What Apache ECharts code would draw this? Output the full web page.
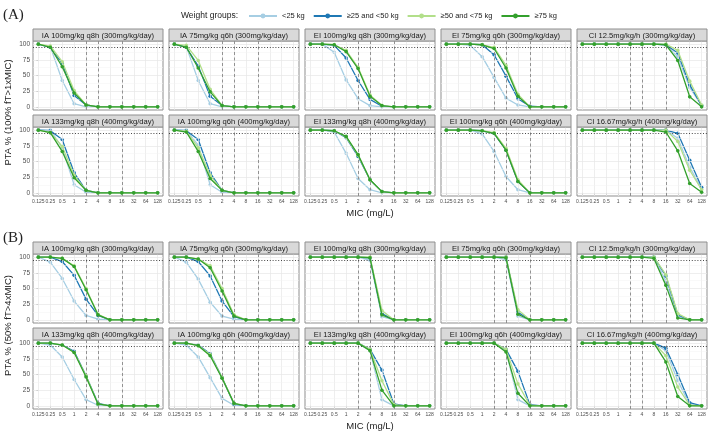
<!DOCTYPE html>
<html><head><meta charset="utf-8">
<script src="https://cdn.jsdelivr.net/npm/echarts@6/dist/echarts.min.js"></script>
<style>html,body{margin:0;padding:0;background:#fff}#c{width:709px;height:433px}</style>
</head><body><div id="c"></div><script>
// ---------- data ----------
const micLabels = ['0.125','0.25','0.5','1','2','4','8','16','32','64','128'];
const groups = ['<25 kg','≥25 and <50 kg','≥50 and <75 kg','≥75 kg'];
const groupColors = ['#a6cee3','#1f78b4','#b2df8a','#33a02c'];
const yTicks = [0,25,50,75,100];
const yMinor = [12.5,37.5,62.5,87.5];
const breakpointIdx = [4,5,7];   // MIC 2, 4, 16 mg/L
const targetPTA = 95;
const titlesRow1 = ['IA 100mg/kg q8h (300mg/kg/day)','IA 75mg/kg q6h (300mg/kg/day)','EI 100mg/kg q8h (300mg/kg/day)','EI 75mg/kg q6h (300mg/kg/day)','CI 12.5mg/kg/h (300mg/kg/day)'];
const titlesRow2 = ['IA 133mg/kg q8h (400mg/kg/day)','IA 100mg/kg q6h (400mg/kg/day)','EI 133mg/kg q8h (400mg/kg/day)','EI 100mg/kg q6h (400mg/kg/day)','CI 16.67mg/kg/h (400mg/kg/day)'];

// (A) 100% fT>1xMIC ; each panel: [<25, 25-50, 50-75, >=75]
const A_IA100q8h = [[100,96,42,5,0,0,0,0,0,0,0],[100,95,69,18,3,0,0,0,0,0,0],[100,97,72,26,3,0,0,0,0,0,0],[100,95,64,22,3,0,0,0,0,0,0]];
const A_IA75q6h  = [[100,96,42,5,0,0,0,0,0,0,0],[100,95,65,17,2,0,0,0,0,0,0],[100,98,74,28,2,0,0,0,0,0,0],[100,95,62,24,2,0,0,0,0,0,0]];
const A_EI100q8h = [[100,100,87,43,13,2,0,0,0,0,0],[100,100,98,78,42,12,1,0,0,0,0],[100,100,99,90,63,19,2,0,0,0,0],[100,100,99,88,61,17,2,0,0,0,0]];
const A_EI75q6h  = [[100,100,98,80,47,14,3,0,0,0,0],[100,100,100,99,83,49,13,1,0,0,0],[100,100,100,99,95,66,20,0,0,0,0],[100,100,100,99,93,62,17,0,0,0,0]];
const A_CI12_5   = [[100,100,100,100,100,100,100,99,80,31,2],[100,100,100,100,100,100,100,99,86,35,2],[100,100,100,100,100,100,100,100,90,41,3],[100,100,100,100,100,100,100,99,74,16,0]];
const A_IA133q8h = [[100,100,72,13,1,0,0,0,0,0,0],[100,99,85,32,4,0,0,0,0,0,0],[100,96,74,28,4,0,0,0,0,0,0],[100,96,66,24,4,0,0,0,0,0,0]];
const A_IA100q6h = [[100,100,76,13,1,0,0,0,0,0,0],[100,99,85,32,4,0,0,0,0,0,0],[100,98,72,28,4,0,0,0,0,0,0],[100,97,66,23,4,0,0,0,0,0,0]];
const A_EI133q8h = [[100,100,97,63,23,5,0,0,0,0,0],[100,100,99,88,58,21,2,0,0,0,0],[100,100,99,89,60,21,2,0,0,0,0],[100,100,99,90,61,21,2,0,0,0,0]];
const A_EI100q6h = [[100,100,100,94,66,26,5,0,0,0,0],[100,100,100,99,95,68,18,0,0,0,0],[100,100,100,99,96,71,21,0,0,0,0],[100,100,100,99,95,68,18,0,0,0,0]];
const A_CI16_67  = [[100,100,100,100,100,100,100,100,87,41,6],[100,100,100,100,100,100,100,100,95,52,9],[100,100,100,100,100,100,100,100,82,36,5],[100,100,100,100,100,100,100,97,67,15,1]];

// (B) 50% fT>4xMIC
const B_IA100q8h = [[100,92,66,30,7,1,0,0,0,0,0],[100,100,93,71,33,7,0,0,0,0,0],[100,100,98,86,50,9,0,0,0,0,0],[100,100,98,85,48,8,0,0,0,0,0]];
const B_IA75q6h  = [[100,92,65,28,6,1,0,0,0,0,0],[100,100,93,70,30,5,0,0,0,0,0],[100,100,97,86,50,8,0,0,0,0,0],[100,100,97,83,46,6,0,0,0,0,0]];
const B_EI100q8h = [[100,100,100,100,100,95,5,0,0,0,0],[100,100,100,100,100,99,10,0,0,0,0],[100,100,100,100,100,100,15,0,0,0,0],[100,100,100,100,100,99,8,0,0,0,0]];
const B_EI75q6h  = [[100,100,100,100,100,96,6,0,0,0,0],[100,100,100,100,100,100,12,0,0,0,0],[100,100,100,100,100,100,16,0,0,0,0],[100,100,100,100,100,99,9,0,0,0,0]];
const B_CI12_5   = [[100,100,100,100,100,100,100,62,6,0,0],[100,100,100,100,100,100,100,70,8,0,0],[100,100,100,100,100,100,100,72,10,0,0],[100,100,100,100,100,100,98,55,3,0,0]];
const B_IA133q8h = [[100,97,78,42,10,1,0,0,0,0,0],[100,100,97,87,48,4,0,0,0,0,0],[100,100,97,85,48,3,0,0,0,0,0],[100,100,97,85,46,3,0,0,0,0,0]];
const B_IA100q6h = [[100,97,78,45,12,1,0,0,0,0,0],[100,100,97,83,45,3,0,0,0,0,0],[100,100,96,82,45,4,0,0,0,0,0],[100,100,96,80,44,4,0,0,0,0,0]];
const B_EI133q8h = [[100,100,100,100,100,88,10,0,0,0,0],[100,100,100,100,100,90,57,3,0,0,0],[100,100,100,100,100,90,40,2,0,0,0],[100,100,100,100,100,88,25,0,0,0,0]];
const B_EI100q6h = [[100,100,100,100,100,88,10,0,0,0,0],[100,100,100,100,100,90,55,2,0,0,0],[100,100,100,100,100,90,35,1,0,0,0],[100,100,100,100,100,86,20,0,0,0,0]];
const B_CI16_67  = [[100,100,100,100,100,100,100,88,40,2,0],[100,100,100,100,100,100,100,92,50,5,0],[100,100,100,100,100,100,100,80,30,1,0],[100,100,100,100,100,100,100,70,15,0,0]];

const panelRows = [
  [A_IA100q8h, A_IA75q6h, A_EI100q8h, A_EI75q6h, A_CI12_5],
  [A_IA133q8h, A_IA100q6h, A_EI133q8h, A_EI100q6h, A_CI16_67],
  [B_IA100q8h, B_IA75q6h, B_EI100q8h, B_EI75q6h, B_CI12_5],
  [B_IA133q8h, B_IA100q6h, B_EI133q8h, B_EI100q6h, B_CI16_67]
];
const rowTitles = [titlesRow1, titlesRow2, titlesRow1, titlesRow2];

// ---------- layout ----------
const FONT = 'Liberation Sans, Arial, sans-serif';
const panelLeft0 = 33, panelPitch = 136, panelW = 130;
const stripTops = [29, 115, 242, 328];
const stripH = 12, plotH = 69;

const grids = [], xAxes = [], yAxes = [], series = [], graphics = [];
let p = 0;
panelRows.forEach((row, r) => {
  row.forEach((panel, c) => {
    const left = panelLeft0 + panelPitch * c;
    const top = stripTops[r] + stripH;
    const bottomRow = (r === 1 || r === 3);
    grids.push({left: left, top: top, width: panelW, height: plotH, show: true,
      borderColor: '#8f8f8f', borderWidth: 1, backgroundColor: '#fff', z: 0});
    xAxes.push({type: 'value', gridIndex: p, min: -0.45, max: 10.45,
      axisLine: {show: false}, splitLine: {show: false},
      axisTick: {show: bottomRow, customValues: micLabels.map((_, i) => i), length: 2, lineStyle: {color: '#555', width: 0.6}},
      axisLabel: {show: bottomRow, customValues: micLabels.map((_, i) => i), formatter: v => micLabels[Math.round(v)],
        fontSize: 5, color: '#4d4d4d', margin: 3, fontFamily: FONT, hideOverlap: false}});
    yAxes.push({type: 'value', gridIndex: p, min: -5, max: 105,
      axisLine: {show: false}, splitLine: {show: false},
      axisTick: {show: c === 0, customValues: yTicks, length: 2, lineStyle: {color: '#555', width: 0.6}},
      axisLabel: {show: c === 0, customValues: yTicks, fontSize: 6.5, color: '#4d4d4d', margin: 3, fontFamily: FONT}});
    // background grid + reference lines
    const ml = [];
    micLabels.forEach((_, i) => ml.push({xAxis: i, lineStyle: {color: '#e6e6e6', width: 0.7, type: 'solid'}}));
    yMinor.forEach(v => ml.push({yAxis: v, lineStyle: {color: '#f2f2f2', width: 0.5, type: 'solid'}}));
    yTicks.forEach(v => ml.push({yAxis: v, lineStyle: {color: '#e6e6e6', width: 0.7, type: 'solid'}}));
    breakpointIdx.forEach(i => ml.push({xAxis: i, lineStyle: {color: '#7a7a7a', width: 0.8, type: [3, 2.5]}}));
    ml.push({yAxis: targetPTA, lineStyle: {color: '#333', width: 0.9, type: [1, 1.8]}});
    series.push({type: 'line', xAxisIndex: p, yAxisIndex: p, data: [], silent: true, z: 1,
      markLine: {silent: true, symbol: ['none', 'none'], label: {show: false}, animation: false, data: ml}});
    panel.forEach((vals, g) => {
      series.push({type: 'line', name: groups[g], xAxisIndex: p, yAxisIndex: p,
        data: vals.map((v, i) => [i, v]), symbol: 'circle', symbolSize: 3.6, showSymbol: true,
        lineStyle: {width: 1.3, color: groupColors[g]}, itemStyle: {color: groupColors[g]},
        z: 3 + g, animation: false, emphasis: {disabled: true}});
    });
    // strip
    graphics.push({type: 'rect', shape: {x: left, y: stripTops[r], width: panelW, height: stripH},
      style: {fill: '#d9d9d9', stroke: '#8f8f8f', lineWidth: 1}, z: 10});
    graphics.push({type: 'text', x: left + panelW / 2, y: stripTops[r] + stripH / 2 + 0.5,
      style: {text: rowTitles[r][c], fontSize: 7.6, fontFamily: FONT, fill: '#1a1a1a',
        align: 'center', verticalAlign: 'middle', textAlign: 'center', textVerticalAlign: 'middle'}, z: 11});
    p++;
  });
});

const midX = panelLeft0 + (panelPitch * 4 + panelW) / 2;
const sectionLabels = [
  {text: '(A)', y: 15}, {text: '(B)', y: 238}
];
sectionLabels.forEach(s => graphics.push({type: 'text', x: 3, y: s.y,
  style: {text: s.text, fontSize: 15, fontFamily: 'Liberation Serif, Times New Roman, serif', fill: '#222',
    align: 'left', verticalAlign: 'middle', textAlign: 'left', textVerticalAlign: 'middle'}}));
const yTitles = [
  {text: 'PTA % (100% fT>1xMIC)', y: (stripTops[0] + stripTops[1] + stripH + plotH) / 2},
  {text: 'PTA % (50% fT>4xMIC)', y: (stripTops[2] + stripTops[3] + stripH + plotH) / 2}
];
yTitles.forEach(t => graphics.push({type: 'text', x: 8, y: t.y, rotation: Math.PI / 2,
  style: {text: t.text, fontSize: 9.5, fontFamily: FONT, fill: '#222',
    align: 'center', verticalAlign: 'middle', textAlign: 'center', textVerticalAlign: 'middle'}}));
[stripTops[1] + stripH + plotH + 17, stripTops[3] + stripH + plotH + 17].forEach(y =>
  graphics.push({type: 'text', x: midX, y: y,
    style: {text: 'MIC (mg/L)', fontSize: 9.5, fontFamily: FONT, fill: '#222',
      align: 'center', verticalAlign: 'middle', textAlign: 'center', textVerticalAlign: 'middle'}}));
graphics.push({type: 'text', x: 181, y: 16,
  style: {text: 'Weight groups:', fontSize: 8.5, fontFamily: FONT, fill: '#222',
    align: 'left', verticalAlign: 'middle', textAlign: 'left', textVerticalAlign: 'middle'}});

const chart = echarts.init(document.getElementById('c'), null, {renderer: 'canvas'});
chart.setOption({
  animation: false,
  backgroundColor: '#fff',
  grid: grids, xAxis: xAxes, yAxis: yAxes, series: series,
  legend: {data: groups, left: 243, top: 7, itemWidth: 28, itemHeight: 6, itemGap: 8,
    textStyle: {fontSize: 7.5, fontFamily: FONT, color: '#222'}, selectedMode: false},
  graphic: graphics
});
</script></body></html>
